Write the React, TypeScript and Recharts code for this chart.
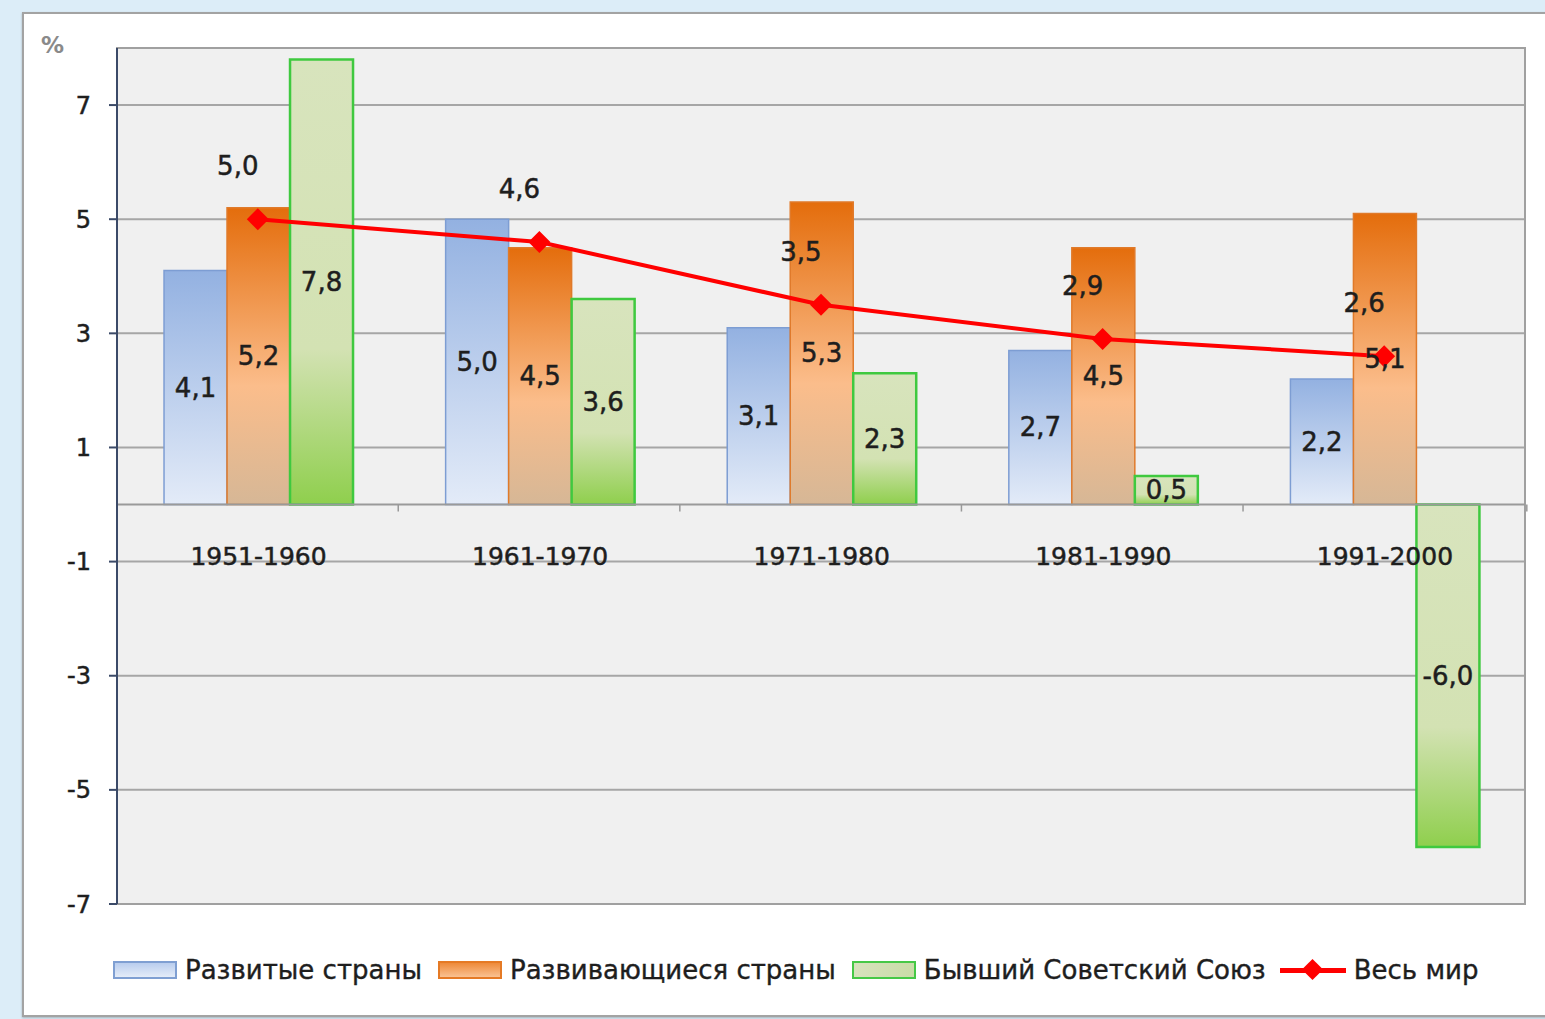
import React from 'react';
import { ComposedChart, Bar, Line, XAxis, YAxis, CartesianGrid, ReferenceLine, ReferenceArea, LabelList } from 'recharts';

const categories = ['1951-1960', '1961-1970', '1971-1980', '1981-1990', '1991-2000'];
const developed = [4.1, 5.0, 3.1, 2.7, 2.2];
const developing = [5.2, 4.5, 5.3, 4.5, 5.1];
const formerUSSR = [7.8, 3.6, 2.3, 0.5, -6.0];
const world = [5.0, 4.6, 3.5, 2.9, 2.6];
const yTicks = [-7, -5, -3, -1, 1, 3, 5, 7];
const seriesNames = ['Развитые страны', 'Развивающиеся страны', 'Бывший Советский Союз', 'Весь мир'];
const unitLabel = '%';

const data = categories.map((c, i) => ({
  category: c,
  developed: developed[i],
  developing: developing[i],
  ussr: formerUSSR[i],
  world: world[i],
}));

const FONT = "'DejaVu Sans', sans-serif";
const TXT = '#1e1e1e';
const fmt = (v: number) => Number(v).toFixed(1).replace('.', ',');

const box = (p: any) => {
  const vb = p.viewBox && p.viewBox.width !== undefined ? p.viewBox : p;
  return { x: Number(vb.x), y: Number(vb.y), width: Number(vb.width), height: Number(vb.height) };
};

const textStyle = { fontSize: 26, fill: TXT, fontFamily: FONT, stroke: TXT, strokeWidth: 0.5 };

const CenterLabel = (p: any) => {
  const { x, y, width, height } = box(p);
  return (
    <text x={x + width / 2} y={y + height / 2} textAnchor="middle" dominantBaseline="central" {...textStyle}>
      {fmt(p.value)}
    </text>
  );
};

const CategoryLabel = (p: any) => {
  const { x, y, width, height } = box(p);
  const base = height >= 0 ? y + height : y;
  return (
    <text x={x + width / 2} y={base + 52} textAnchor="middle" dominantBaseline="central" {...textStyle} fontSize={25}>
      {categories[p.index]}
    </text>
  );
};

const BoundaryTick = (p: any) => {
  const { x, y, width, height } = box(p);
  const base = height >= 0 ? y + height : y;
  const gap = (width * 3 * 0.167) / (1 - 2 * 0.167);
  const left = x - gap;
  const right = x + width * 3 + gap;
  return (
    <g>
      {p.index > 0 && <line x1={left} x2={left} y1={base} y2={base + 7} stroke="#999" strokeWidth={1.5} />}
      {p.index === categories.length - 1 && <line x1={right} x2={right} y1={base} y2={base + 7} stroke="#999" strokeWidth={1.5} />}
    </g>
  );
};

const WorldLabel = (p: any) => {
  const x = Number(p.x ?? p.viewBox?.x);
  const y = Number(p.y ?? p.viewBox?.y);
  return (
    <text x={x - 20} y={y - 53} textAnchor="middle" dominantBaseline="central" {...textStyle}>
      {fmt(p.value)}
    </text>
  );
};

const Diamond = (p: any) => {
  const { cx, cy } = p;
  if (cx == null || cy == null) return null;
  const s = 11;
  return <path d={`M${cx},${cy - s}L${cx + s},${cy}L${cx},${cy + s}L${cx - s},${cy}Z`} fill="#ff0000" />;
};

const legendIcon = (bg: string, border: string) => (
  <span style={{ display: 'inline-block', width: 64, height: 18, background: bg, border: `2px solid ${border}`, boxSizing: 'border-box', marginRight: 8 }} />
);

const Legend = () => (
  <div style={{ position: 'absolute', left: 113, top: 955, display: 'flex', alignItems: 'center', fontFamily: FONT, fontSize: 26, color: TXT, whiteSpace: 'nowrap', WebkitTextStroke: '0.4px #1e1e1e' }}>
    {legendIcon('linear-gradient(#b9cdee, #e4ecf8)', '#7f9fd2')}
    <span style={{ marginRight: 16 }}>{seriesNames[0]}</span>
    {legendIcon('linear-gradient(#ee8a3a, #f9c191)', '#e57a25')}
    <span style={{ marginRight: 16 }}>{seriesNames[1]}</span>
    {legendIcon('linear-gradient(90deg, #d7e2bd, #c9dca7)', '#46c846')}
    <span style={{ marginRight: 14 }}>{seriesNames[2]}</span>
    <span style={{ position: 'relative', display: 'inline-block', width: 66, height: 22, marginRight: 8 }}>
      <span style={{ position: 'absolute', left: 0, top: 9, width: 66, height: 5, background: '#ff0000' }} />
      <span style={{ position: 'absolute', left: 25, top: 3, width: 15, height: 15, background: '#ff0000', transform: 'rotate(45deg)' }} />
    </span>
    <span>{seriesNames[3]}</span>
  </div>
);

export default function App() {
  return (
    <div style={{ position: 'absolute', left: 0, top: 0, width: 1545, height: 1019, background: '#dcedf8', overflow: 'hidden' }}>
      <div style={{ position: 'absolute', left: 22, top: 12, width: 1540, height: 1005, background: '#ffffff', border: '2px solid #a3a3a3', boxSizing: 'border-box', boxShadow: '0 1px 2px rgba(0,0,0,0.25)' }} />
      <div style={{ position: 'absolute', left: 41, top: 32, fontFamily: FONT, fontSize: 23, color: '#8a8a8a', fontWeight: 'bold' }}>{unitLabel}</div>
      <div style={{ position: 'absolute', left: 0, top: 0 }}>
        <ComposedChart width={1545} height={1019} data={data} margin={{ top: 48, right: 20, bottom: 115, left: 0 }}
          barCategoryGap="16.7%" barGap={0}>
          <defs>
            <linearGradient id="gBlue" x1="0" y1="0" x2="0" y2="1">
              <stop offset="0%" stopColor="#93b1e1" />
              <stop offset="100%" stopColor="#e3ebf8" />
            </linearGradient>
            <linearGradient id="gOrange" x1="0" y1="0" x2="0" y2="1">
              <stop offset="0%" stopColor="#e46d0c" />
              <stop offset="60%" stopColor="#fbbd8b" />
              <stop offset="100%" stopColor="#d6b796" />
            </linearGradient>
            <linearGradient id="gGreen" x1="0" y1="0" x2="0" y2="1">
              <stop offset="0%" stopColor="#d8e4bd" />
              <stop offset="65%" stopColor="#d3e2b3" />
              <stop offset="100%" stopColor="#8fcf4d" />
            </linearGradient>
          </defs>
          <CartesianGrid vertical={false} fill="#f0f0f0" stroke="#a6a6a6" strokeWidth={2} />
          <ReferenceArea y1={-7} y2={8} fill="none" stroke="#a0a0a0" strokeWidth={2} ifOverflow="visible" />
          <XAxis dataKey="category" hide />
          <YAxis type="number" domain={[-7, 8]} ticks={yTicks} width={117} tickSize={8} tickMargin={18}
            allowDataOverflow interval={0}
            axisLine={{ stroke: '#3b4a68', strokeWidth: 2 }} tickLine={{ stroke: '#3b4a68', strokeWidth: 2 }}
            tick={{ fontSize: 24, fill: TXT, fontFamily: FONT, stroke: TXT, strokeWidth: 0.5 }} />
          <ReferenceLine y={0} stroke="#9a9a9a" strokeWidth={2} />
          <Bar dataKey="developed" fill="url(#gBlue)" stroke="#7d9dd3" strokeWidth={1.5} isAnimationActive={false}>
            <LabelList dataKey="developed" content={CenterLabel} />
            <LabelList dataKey="developed" content={BoundaryTick} />
          </Bar>
          <Bar dataKey="developing" fill="url(#gOrange)" stroke="#e07a2a" strokeWidth={1.5} isAnimationActive={false}>
            <LabelList dataKey="developing" content={CenterLabel} />
            <LabelList dataKey="developing" content={CategoryLabel} />
          </Bar>
          <Bar dataKey="ussr" fill="url(#gGreen)" stroke="#3fc93f" strokeWidth={2.5} isAnimationActive={false}>
            <LabelList dataKey="ussr" content={CenterLabel} />
          </Bar>
          <Line dataKey="world" type="linear" stroke="#ff0000" strokeWidth={4} dot={Diamond} activeDot={false} isAnimationActive={false}>
            <LabelList dataKey="world" content={WorldLabel} />
          </Line>
        </ComposedChart>
      </div>
      <Legend />
    </div>
  );
}
